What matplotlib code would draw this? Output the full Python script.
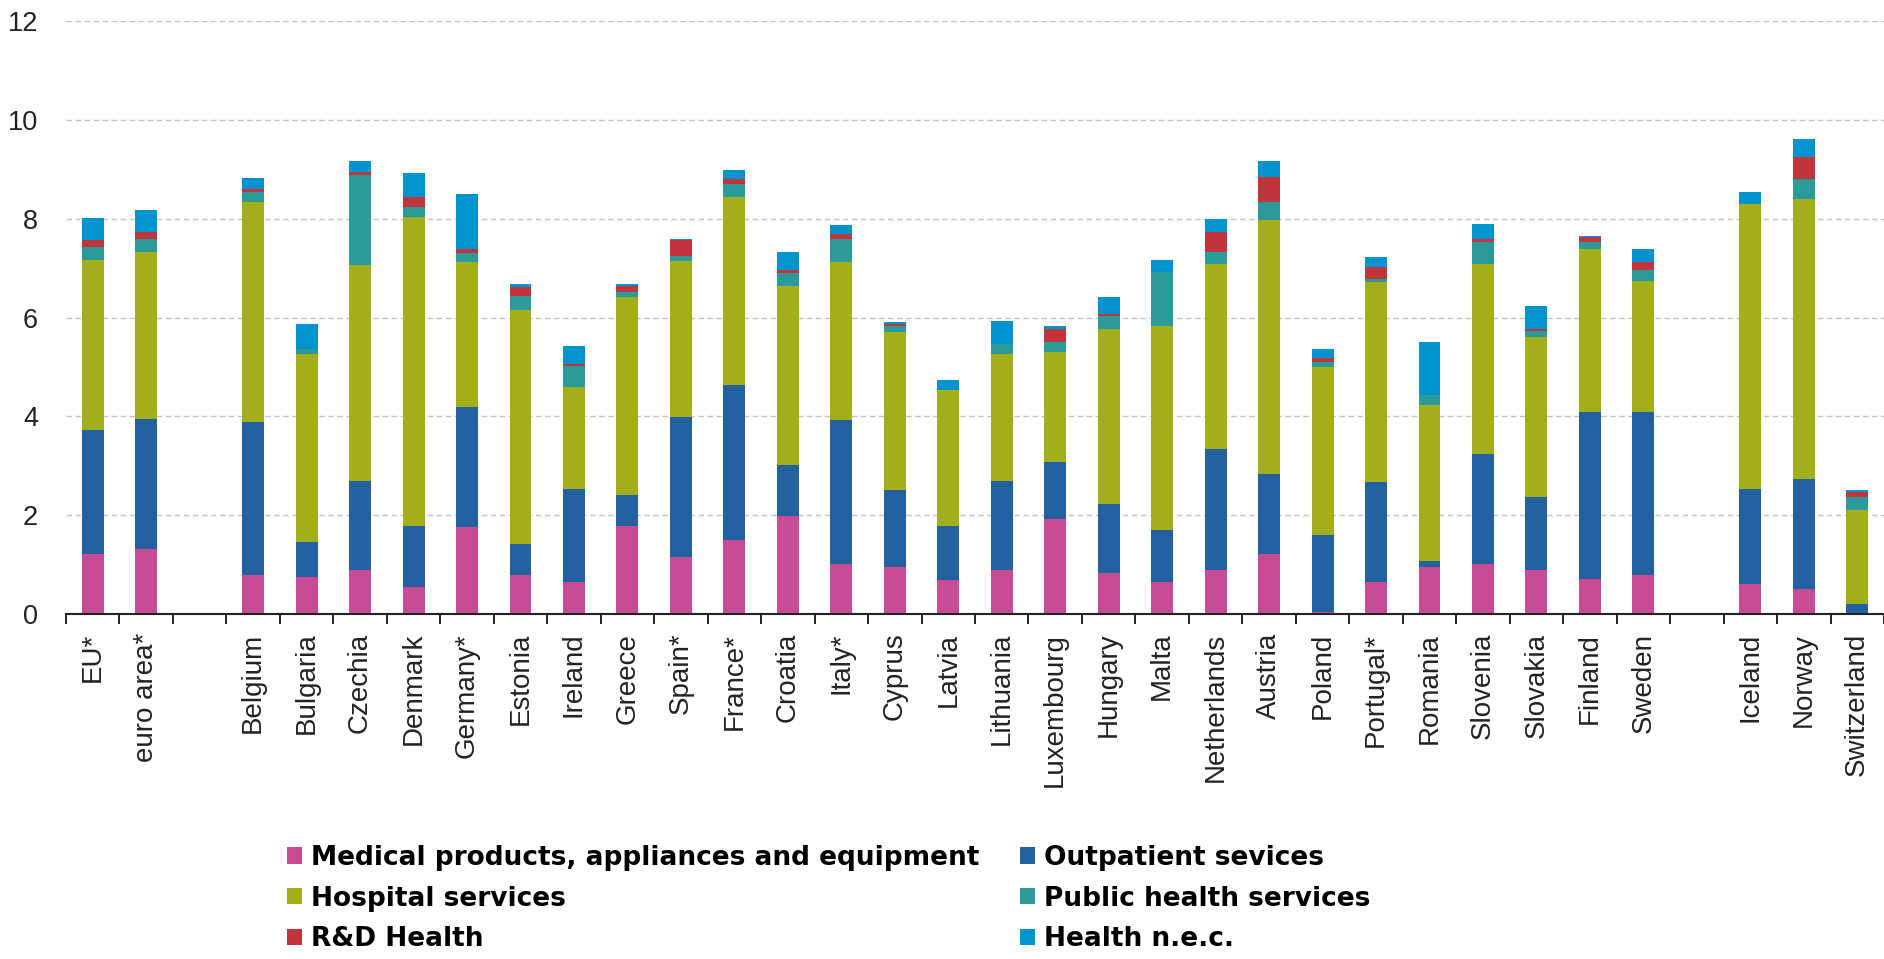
import matplotlib
matplotlib.use("Agg")
import matplotlib.pyplot as plt
import numpy as np

# Categories ("" = empty separator slot)
categories = ["EU*", "euro area*", "",
              "Belgium", "Bulgaria", "Czechia", "Denmark", "Germany*", "Estonia",
              "Ireland", "Greece", "Spain*", "France*", "Croatia", "Italy*", "Cyprus",
              "Latvia", "Lithuania", "Luxembourg", "Hungary", "Malta", "Netherlands",
              "Austria", "Poland", "Portugal*", "Romania", "Slovenia", "Slovakia",
              "Finland", "Sweden", "",
              "Iceland", "Norway", "Switzerland"]

medical = [1.22, 1.32, 0,
           0.78, 0.74, 0.89, 0.55, 1.76, 0.78, 0.65, 1.79, 1.15, 1.49, 1.99, 1.02, 0.95,
           0.68, 0.89, 1.93, 0.82, 0.65, 0.89, 1.22, 0.04, 0.65, 0.95, 1.02, 0.89,
           0.71, 0.78, 0,
           0.61, 0.51, 0.00]
outpatient = [2.50, 2.63, 0,
              3.11, 0.72, 1.81, 1.24, 2.43, 0.64, 1.89, 0.61, 2.84, 3.14, 1.02, 2.90, 1.56,
              1.11, 1.81, 1.15, 1.41, 1.05, 2.46, 1.62, 1.55, 2.02, 0.13, 2.22, 1.48,
              3.38, 3.31, 0,
              1.93, 2.23, 0.21]
hospital = [3.45, 3.38, 0,
            4.45, 3.81, 4.36, 6.24, 2.94, 4.73, 2.06, 4.01, 3.16, 3.81, 3.64, 3.21, 3.20,
            2.74, 2.57, 2.22, 3.54, 4.14, 3.74, 5.13, 3.41, 4.05, 3.15, 3.85, 3.23,
            3.30, 2.66, 0,
            5.76, 5.66, 1.89]
public = [0.27, 0.26, 0,
          0.20, 0.10, 1.82, 0.21, 0.17, 0.29, 0.43, 0.10, 0.10, 0.26, 0.26, 0.46, 0.13,
          0.00, 0.20, 0.20, 0.27, 1.08, 0.24, 0.37, 0.10, 0.06, 0.20, 0.44, 0.13,
          0.14, 0.21, 0,
          0.00, 0.41, 0.27]
rnd = [0.14, 0.14, 0,
       0.07, 0.00, 0.06, 0.20, 0.09, 0.18, 0.04, 0.14, 0.32, 0.10, 0.05, 0.11, 0.03,
       0.00, 0.00, 0.27, 0.04, 0.00, 0.40, 0.50, 0.09, 0.24, 0.00, 0.06, 0.04,
       0.10, 0.16, 0,
       0.00, 0.44, 0.09]
nec = [0.43, 0.44, 0,
       0.21, 0.50, 0.24, 0.48, 1.11, 0.07, 0.36, 0.04, 0.03, 0.18, 0.37, 0.17, 0.04,
       0.20, 0.47, 0.07, 0.33, 0.24, 0.27, 0.34, 0.18, 0.20, 1.07, 0.31, 0.47,
       0.03, 0.27, 0,
       0.24, 0.37, 0.05]

series_names = ["Medical products, appliances and equipment", "Outpatient sevices",
                "Hospital services", "Public health services", "R&D Health", "Health n.e.c."]
series_values = [medical, outpatient, hospital, public, rnd, nec]
series_colors = ["#C84B96", "#22609F", "#A3AE1B", "#2A9A9A", "#C0353B", "#0093CF"]

yticks = [0, 2, 4, 6, 8, 10, 12]

W, H = 1884, 959
fig = plt.figure(figsize=(W / 100, H / 100), dpi=100)
ax = fig.add_axes([66 / W, 1 - 614 / H, (1884 - 66) / W, (614 - 21.3) / H])

x = np.arange(len(categories))
bottom = np.zeros(len(categories))
handles = []
for name, vals, col in zip(series_names, series_values, series_colors):
    v = np.array(vals, dtype=float)
    b = ax.bar(x, v, width=0.41, bottom=bottom, color=col, label=name,
               edgecolor="none", zorder=3)
    handles.append(b)
    bottom += v

ax.set_xlim(-0.5, len(categories) - 0.5)
ax.set_ylim(0, 12)

# grid
ax.set_yticks(yticks)
ax.set_yticklabels([str(t) for t in yticks], fontsize=19.5, color="#222222",
                   family="Liberation Sans")
for t in yticks[1:]:
    ax.axhline(t, color="#C4C4C4", lw=1.0, ls=(0, (4, 2.5)), zorder=1)
ax.tick_params(axis="y", length=0, pad=20)

# x ticks: labels at centers, marks at boundaries
ax.set_xticks(x)
ax.set_xticklabels(categories, rotation=90, fontsize=20, color="#222222",
                   family="Liberation Sans", va="top", ha="center")
ax.tick_params(axis="x", which="major", length=0, pad=13.5)
ax.set_xticks(np.arange(len(categories) + 1) - 0.5, minor=True)
ax.tick_params(axis="x", which="minor", length=7.5, width=1.4, color="#222222",
               direction="out")

for s in ["top", "right", "left"]:
    ax.spines[s].set_visible(False)
ax.spines["bottom"].set_color("#222222")
ax.spines["bottom"].set_linewidth(1.5)
ax.spines["bottom"].set_zorder(4)

# legend: row-wise order -> reorder for column filling
order = [0, 2, 4, 1, 3, 5]
leg = fig.legend([handles[i] for i in order], [series_names[i] for i in order],
                 ncol=2, loc="upper left", bbox_to_anchor=(287 / W, 1 - 845 / H),
                 frameon=False, borderpad=0, borderaxespad=0,
                 handlelength=0.58, handleheight=0.58, handletextpad=0.32,
                 labelspacing=0.55, columnspacing=1.55,
                 prop={"family": "DejaVu Sans", "weight": "bold", "size": 19})

fig.savefig("out.png", dpi=100, facecolor="white")
